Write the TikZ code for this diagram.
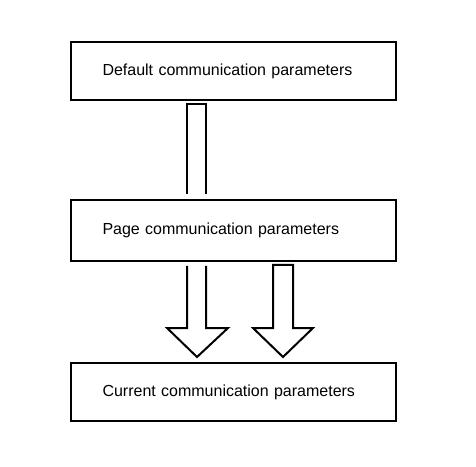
\documentclass[tikz,border=0pt]{standalone}
\usepackage{fontspec}
\setmainfont{Liberation Sans}
\usetikzlibrary{calc}

\begin{document}
\begin{tikzpicture}[
      x=1pt, y=1pt,
      box/.style={draw, line width=2pt, minimum width=325pt, minimum height=58pt, text width=261pt, inner xsep=32pt, align=left, font=\fontsize{16}{19}\selectfont},
      hollow/.style={draw, line width=2pt, line join=miter}
    ]
      \useasboundingbox (0,0) rectangle (476,466);
      \node[box] (default) at (233,395) {Default communication parameters};
      \node[box, minimum height=61pt] (page) at (233,235.5) {Page communication parameters};
      \node[box] (current) at (233,74) {Current communication parameters};

      % open shaft between the first two boxes
      \draw[hollow] ($(page.north)+(-46,5)$) -- ($(default.south)+(-46,-3)$) -- ($(default.south)+(-27,-3)$) -- ($(page.north)+(-27,5)$);
      % hollow arrows into the last box
      \draw[hollow] ($(page.south)+(-46,-4)$) -- ($(current.north)+(-46,34)$) -- ($(current.north)+(-66,34)$) -- ($(current.north)+(-36,5)$) -- ($(current.north)+(-5,34)$) -- ($(current.north)+(-27,34)$) -- ($(page.south)+(-27,-4)$);
      \draw[hollow] ($(page.south)+(40,-3)$) -- ($(current.north)+(40,34)$) -- ($(current.north)+(20,34)$) -- ($(current.north)+(50,5)$) -- ($(current.north)+(80,34)$) -- ($(current.north)+(60,34)$) -- ($(page.south)+(60,-3)$) -- cycle;
    \end{tikzpicture}
\end{document}
